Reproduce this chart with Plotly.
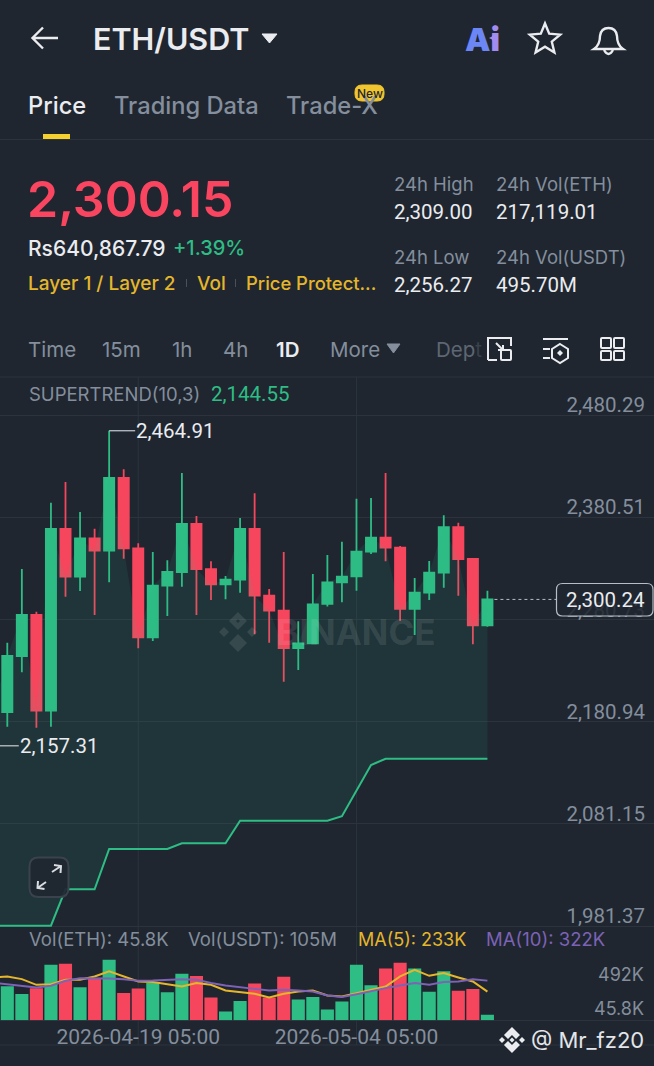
import re
import math
import pandas as pd
import plotly.graph_objects as go

# Daily candles, first row sits just off the left edge of the screen
dates = pd.date_range("2026-04-09 05:00", periods=35, freq="D")
open_prices = [2235.0, 2190.3, 2245.0, 2285.0, 2191.6, 2369.0, 2322.4, 2359.9, 2347.8, 2418.8,
               2350.1, 2263.2, 2313.7, 2327.0, 2373.9, 2329.9, 2315.0, 2319.5, 2369.0, 2303.9,
               2289.3, 2252.8, 2257.4, 2295.8, 2316.9, 2322.8, 2346.9, 2360.5, 2350.8, 2290.9,
               2306.8, 2326.4, 2370.9, 2339.7, 2274.9]
high_prices = [2262.0, 2258.0, 2329.9, 2288.3, 2394.7, 2414.9, 2385.6, 2369.3, 2464.91, 2427.2,
               2355.0, 2346.5, 2338.4, 2423.7, 2381.7, 2337.4, 2323.1, 2379.7, 2403.8, 2310.4,
               2346.5, 2278.8, 2325.1, 2343.6, 2356.6, 2398.6, 2399.3, 2423.7, 2352.4, 2321.1,
               2337.7, 2382.3, 2375.2, 2340.4, 2308.8]
low_prices = [2157.31, 2176.0, 2229.0, 2175.0, 2176.0, 2302.9, 2308.4, 2285.0, 2316.9, 2340.0,
              2252.5, 2259.6, 2284.0, 2312.7, 2285.0, 2299.7, 2300.3, 2306.8, 2266.1, 2258.0,
              2219.9, 2231.3, 2256.4, 2293.2, 2297.4, 2308.8, 2344.6, 2337.4, 2279.5, 2265.5,
              2299.7, 2311.7, 2303.9, 2256.4, 2273.6]
close_prices = [2190.0, 2245.0, 2285.0, 2191.6, 2369.0, 2322.4, 2359.9, 2347.8, 2418.8, 2350.1,
                2263.2, 2313.7, 2327.0, 2373.9, 2329.9, 2315.0, 2319.5, 2369.0, 2303.9, 2289.3,
                2252.8, 2257.4, 2295.4, 2316.9, 2322.4, 2346.9, 2360.5, 2350.8, 2290.9, 2306.8,
                2326.4, 2370.9, 2339.7, 2274.9, 2300.24]
supertrend = [1981.7, 1981.7, 1981.7, 1981.7, 1981.7, 2017.2, 2017.2, 2017.2, 2056.6, 2056.6,
              2056.6, 2056.6, 2056.6, 2062.1, 2062.1, 2062.1, 2062.1, 2084.2, 2084.2, 2084.2,
              2084.2, 2084.2, 2084.2, 2084.2, 2088.5, 2113.7, 2138.6, 2144.55, 2144.55, 2144.55,
              2144.55, 2144.55, 2144.55, 2144.55, 2144.55]

# Volume in thousands of ETH
volumes = [250, 277, 214, 261, 451, 459, 269, 337, 492, 222, 258, 302, 228, 377, 359, 185, 71, 157,
           299, 185, 353, 169, 190, 87, 152, 451, 285, 421, 467, 421, 231, 399, 239, 255, 45.8]
ma5 = [345, 356, 334, 288, 293, 329, 329, 356, 397, 356, 315, 310, 293, 274, 302, 288, 242, 226,
       215, 185, 215, 234, 242, 201, 193, 220, 247, 274, 356, 410, 361, 383, 348, 315, 233]
ma10 = [304, 293, 280, 266, 280, 321, 342, 342, 340, 334, 321, 323, 329, 334, 329, 302, 283, 266,
        255, 242, 247, 242, 234, 201, 190, 212, 239, 261, 283, 302, 288, 310, 315, 334, 322]

price_ticks = [2480.29, 2380.51, 2280.73, 2180.94, 2081.15, 1981.37]
time_ticks = ["2026-04-19 05:00", "2026-05-04 05:00"]

BG = "#1F2630"
GREEN = "#2EBD85"
RED = "#F6465D"
RED_TXT = "#FA4560"
YELLOW = "#E5B62B"
PURPLE = "#7D62B5"
WHITE = "#EAECEF"
GREY = "#848E9C"
GRID = "#2C333D"
FONT = "Inter"
NUM = "Roboto"  # tabular digits, closer to the app's figures
W, H = 654, 1066


def fx(x):
    return x / W


def fy(y):
    return 1 - y / H


# pixel path string -> paper path string
def px_path(s):
    nums = iter(range(10000))
    def conv(m):
        v = float(m.group(0))
        return f"{fx(v):.5f}" if next(nums) % 2 == 0 else f"{fy(v):.5f}"
    return re.sub(r"-?\d+\.?\d*", conv, s)


def round_rect(x0, y0, x1, y1, r):
    return (f"M {x0+r} {y0} L {x1-r} {y0} Q {x1} {y0} {x1} {y0+r} L {x1} {y1-r} Q {x1} {y1} {x1-r} {y1} "
            f"L {x0+r} {y1} Q {x0} {y1} {x0} {y1-r} L {x0} {y0+r} Q {x0} {y0} {x0+r} {y0} Z")


shapes = []
annots = []


def draw(path, color=WHITE, width=2.4, fill=None):
    shapes.append(dict(type="path", xref="paper", yref="paper", path=px_path(path),
                       line=dict(color=color, width=width), fillcolor=fill or "rgba(0,0,0,0)"))


def txt(x, y, text, size, color=WHITE, anchor="left", weight=400, family=FONT):
    # left anchored text renders about 1.5px to the right of the asked spot
    dx = -1.5 if anchor == "left" else 0
    annots.append(dict(xref="paper", yref="paper", x=fx(x + dx), y=fy(y), text=text, showarrow=False,
                       xanchor=anchor, yanchor="middle", borderpad=0,
                       font=dict(family=family, size=size, color=color, weight=weight)))


fig = go.Figure()

fig.add_trace(go.Candlestick(x=dates, open=open_prices, high=high_prices, low=low_prices, close=close_prices,
                             increasing=dict(line=dict(color=GREEN, width=1.8), fillcolor=GREEN),
                             decreasing=dict(line=dict(color=RED, width=1.8), fillcolor=RED)))
fig.add_trace(go.Scatter(x=dates, y=supertrend, mode="lines", line=dict(color=GREEN, width=2)))
fig.add_trace(go.Scatter(x=dates, y=close_prices, mode="lines", line=dict(width=0), fill="tonexty",
                         fillcolor="rgba(46,189,133,0.10)"))

vol_colors = [GREEN if c >= o else RED for o, c in zip(open_prices, close_prices)]
fig.add_trace(go.Bar(x=dates, y=volumes, marker=dict(color=vol_colors, line=dict(width=0)), xaxis="x2", yaxis="y2"))
fig.add_trace(go.Scatter(x=dates, y=ma5, mode="lines", line=dict(color=YELLOW, width=2), xaxis="x2", yaxis="y2"))
fig.add_trace(go.Scatter(x=dates, y=ma10, mode="lines", line=dict(color=PURPLE, width=2), xaxis="x2", yaxis="y2"))

# header
draw("M 33 38 L 58 38 M 43 27.5 L 32.5 38 L 43 48.5")
txt(93, 38, "ETH/USDT", 30.5, WHITE, weight=600)
draw("M 262 34 L 277 34 L 269.5 43 Z", WHITE, 1, WHITE)
txt(465, 39, "A<span style='color:#A48BF0'>i</span>", 32, "#6C86F5", weight=900)
draw("M 493.5 33 L 495 36.5 L 498 38 L 495 39.5 L 493.5 43 L 492 39.5 L 489 38 L 492 36.5 Z", "#A48BF0", 0, "#A48BF0")
star = []
for k in range(10):
    r = 16 if k % 2 == 0 else 7.2
    a = -math.pi / 2 + k * math.pi / 5
    star.append(f"{545 + r * math.cos(a):.1f} {39.5 + r * math.sin(a):.1f}")
draw("M " + " L ".join(star) + " Z")
draw("M 594 49 Q 600 45 600 36 Q 601 28 608.5 28 Q 616 28 617 36 Q 617 45 623 49 Z")
draw("M 604 50 Q 608.5 58 613 50")

txt(28, 105, "Price", 23.7, WHITE, weight=500)
txt(114, 105, "Trading Data", 23.7, GREY, weight=500)
txt(286, 105, "Trade-X", 23.7, GREY, weight=500)
draw(round_rect(355, 85, 384, 101, 7), "#F0C52E", 1, "#F0C52E")
txt(369.5, 93, "New", 12, "#1F2630", "center", 500)
shapes.append(dict(type="rect", xref="paper", yref="paper", x0=fx(43), x1=fx(70), y0=fy(134), y1=fy(139),
                   fillcolor="#F5D130", line=dict(width=0)))

# price block
txt(27, 199, "2,300.15", 50, RED_TXT, weight=600)
txt(28, 248, "Rs640,867.79", 21, WHITE, weight=500)
txt(174, 248, "+1.39%", 20, GREEN, weight=500)
txt(28, 283, "Layer 1 / Layer 2", 19, YELLOW, weight=500)
txt(197, 283, "Vol", 19, YELLOW, weight=500)
txt(246, 283, "Price Protect...", 18.4, YELLOW, weight=500)
for xd in [186.5, 235.5]:
    draw(f"M {xd} 279 L {xd} 287", "#4A515C", 1)
txt(394, 184, "24h High", 18.5, GREY)
txt(496, 184, "24h Vol(ETH)", 18.5, GREY)
txt(394, 212, "2,309.00", 20.5, WHITE, family=NUM)
txt(496, 212, "217,119.01", 20.5, WHITE, family=NUM)
txt(394, 257, "24h Low", 18.5, GREY)
txt(496, 257, "24h Vol(USDT)", 18.5, GREY)
txt(394, 285, "2,256.27", 20.5, WHITE, family=NUM)
txt(496, 285, "495.70M", 20.5, WHITE, family=NUM)

# interval bar
for xt, label in [(28, "Time"), (102, "15m"), (172, "1h"), (223, "4h"), (330, "More")]:
    txt(xt, 349, label, 20.5, GREY)
txt(276, 349, "1D", 20.5, WHITE, weight=600)
draw("M 387 344 L 400 344 L 393.5 353 Z", GREY, 1, GREY)
txt(436, 349, "Dep<span style='color:#39414C'>t</span>", 20.5, "#5E6673")
draw("M 488 360 L 488 338 L 511 338 L 511 346 M 488 360 L 497 360 M 496 343 L 503 350 M 503 345 L 503 350 L 498 350", WHITE, 2)
draw(round_rect(501, 350, 511, 360, 1), WHITE, 2)
draw("M 543 339 L 568 339 M 543 349 L 550 349 M 543 358 L 550 358", WHITE, 2)
draw("M 560 344 L 568 349 L 568 358 L 560 363 L 552 358 L 552 349 Z", WHITE, 2)
draw("M 560 350 L 563 353 L 560 356 L 557 353 Z", WHITE, 0, WHITE)
draw(round_rect(601, 338, 611, 348, 1), WHITE, 2)
draw(round_rect(614, 338, 624, 348, 1), WHITE, 2)
draw(round_rect(601, 351, 611, 360, 1), WHITE, 2)
draw(round_rect(614, 351, 624, 360, 1), WHITE, 2)

# chart labels
txt(29, 394, "SUPERTREND(10,3)", 18.5, GREY)
txt(211, 394, "2,144.55", 20.5, GREEN, family=NUM)
txt(29, 939, "Vol(ETH): 45.8K", 18.5, GREY)
txt(188, 939, "Vol(USDT): 105M", 18.5, GREY)
txt(358, 939, "MA(5): 233K", 18, YELLOW)
txt(486, 939, "MA(10): 322K", 18.5, PURPLE)
txt(645, 974, "492K", 18, GREY, "right")
txt(645, 1008, "45.8K", 18, GREY, "right")

# high / low call-outs hang off the candle they belong to
i_high = high_prices.index(max(high_prices))
i_low = low_prices.index(min(low_prices))
for i, val in [(i_high, high_prices[i_high]), (i_low, low_prices[i_low])]:
    shapes.append(dict(type="line", xref="x", yref="y", xsizemode="pixel", xanchor=dates[i], x0=0, x1=26,
                       y0=val, y1=val, line=dict(color="#C9CDD3", width=1.2)))
annots.append(dict(xref="x", yref="y", x=dates[i_high], y=high_prices[i_high], text=f"{high_prices[i_high]:,.2f}",
                   showarrow=False, xanchor="left", yanchor="middle", xshift=25,
                   font=dict(family=NUM, size=20.5, color=WHITE)))
# low candle is off screen, plotly drops annotations whose x is out of range
txt(20, 746, f"{low_prices[i_low]:,.2f}", 20.5, WHITE, family=NUM)

# last price tag
shapes.append(dict(type="line", xref="x", yref="y", xsizemode="pixel", xanchor=dates[-1], x0=7, x1=69,
                   y0=close_prices[-1], y1=close_prices[-1], line=dict(color="#B7BDC6", width=1, dash="3px,3px")))
shapes.append(dict(type="path", xref="paper", yref="paper", path=px_path(round_rect(556.5, 583.5, 653, 616, 6)),
                   line=dict(color="#B7BDC6", width=1.2), fillcolor="rgba(31,38,48,0.86)"))
txt(605, 600, f"{close_prices[-1]:,.2f}", 20.5, WHITE, "center", family=NUM)

# watermark
wm = "rgba(255,255,255,0.10)"
draw("M 238 612 L 247 621 L 238 630 L 229 621 Z M 238 619 L 240 621 L 238 623 L 236 621 Z", wm, 0, wm)
draw("M 224 627 L 229 632 L 224 637 L 219 632 Z", wm, 0, wm)
draw("M 252 627 L 257 632 L 252 637 L 247 632 Z", wm, 0, wm)
draw("M 238 634 L 247 643 L 238 652 L 229 643 Z", wm, 0, wm)
txt(276, 632, "BINANCE", 35, wm, weight=700)

# expand button
draw(round_rect(29.5, 857.5, 68.5, 897, 9), "#3A424D", 2, "rgba(31,38,48,0.92)")
draw("M 52 872 L 61 866 M 54 865 L 61 866 L 60.5 873", "#D9DCE1", 2)
draw("M 46 882 L 37.5 888 M 44.5 889 L 37.5 888 L 38 881", "#D9DCE1", 2)

# footer watermark
draw("M 512 1027 L 520 1035 L 516 1039 L 512 1035 L 508 1039 L 504 1035 Z", WHITE, 0, WHITE)
draw("M 512 1053 L 520 1045 L 516 1041 L 512 1045 L 508 1041 L 504 1045 Z", WHITE, 0, WHITE)
draw("M 499 1040 L 502 1037 L 505 1040 L 502 1043 Z", WHITE, 0, WHITE)
draw("M 519 1040 L 522 1037 L 525 1040 L 522 1043 Z", WHITE, 0, WHITE)
draw("M 512 1037.5 L 514.5 1040 L 512 1042.5 L 509.5 1040 Z", WHITE, 0, WHITE)
txt(531, 1040, "@ Mr_fz20", 22, "#E3E5E8")

# dividers and the long vertical time lines
for yl in [139.5, 377, 1020.5, 1045]:
    shapes.append(dict(type="line", xref="paper", yref="paper", x0=0, x1=1, y0=fy(yl), y1=fy(yl),
                       layer="below", line=dict(color=GRID, width=1)))
for t in time_ticks:
    shapes.append(dict(type="line", xref="x", yref="paper", x0=t, x1=t, y0=fy(377), y1=fy(1045),
                       layer="below", line=dict(color=GRID, width=1)))

fig.update_layout(
    width=W, height=H, margin=dict(l=0, r=0, t=0, b=0), showlegend=False,
    paper_bgcolor=BG, plot_bgcolor=BG, boxgap=0, bargap=0.1,
    font=dict(family=FONT, color=GREY, size=18),
    shapes=shapes, annotations=annots,
    xaxis=dict(domain=[0, 1], range=["2026-04-09 16:57", "2026-05-24 15:48"], showgrid=False, zeroline=False,
               showticklabels=False, rangeslider=dict(visible=False), anchor="y", fixedrange=True),
    yaxis=dict(domain=[fy(940), fy(377)], range=[1967.7, 2517.39], side="right", anchor="x",
               tickvals=price_ticks, tickformat=",.2f", gridcolor=GRID, gridwidth=1, zeroline=False,
               ticklabelposition="inside", ticklabelstandoff=6, ticklabelshift=-10, ticklabeloverflow="allow",
               tickfont=dict(family=NUM, size=20.5, color=GREY), fixedrange=True),
    xaxis2=dict(domain=[0, 1], matches="x", anchor="y2", showgrid=False, zeroline=False,
                tickvals=time_ticks, tickformat="%Y-%m-%d %H:%M", ticks="", ticklabelstandoff=2,
                tickfont=dict(family=NUM, size=21, color=GREY)),
    yaxis2=dict(domain=[fy(1020.3), fy(950)], range=[0, 570.5], anchor="x2", showgrid=False,
                zeroline=False, showticklabels=False, fixedrange=True),
)

fig.write_html("out.html", config=dict(displayModeBar=False), post_script="document.body.style.margin='0';")
